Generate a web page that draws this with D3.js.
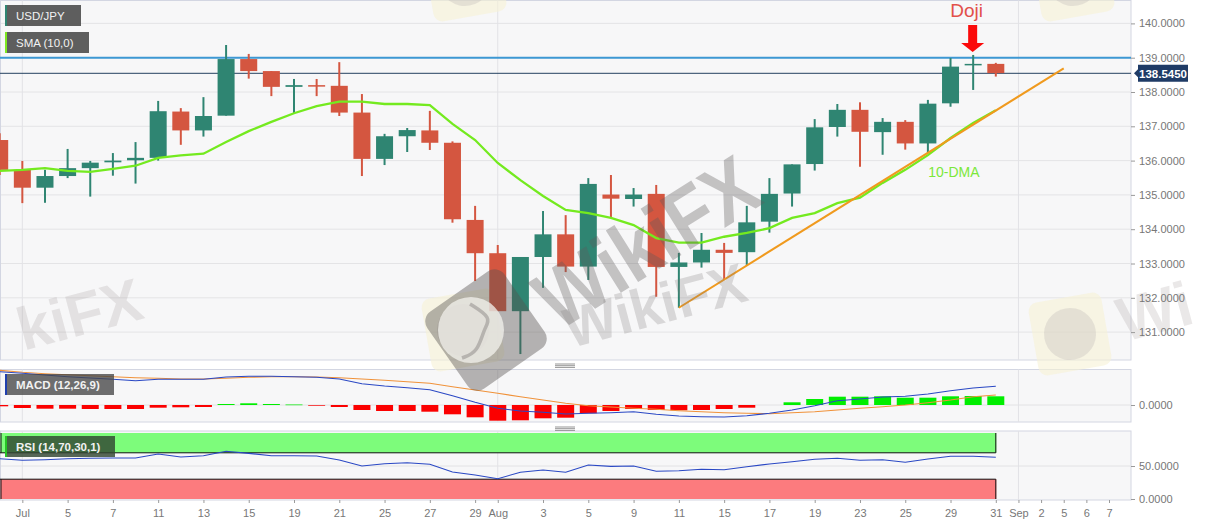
<!DOCTYPE html>
<html><head><meta charset="utf-8">
<script src="https://cdn.jsdelivr.net/npm/d3@7/dist/d3.min.js"></script>
<style>html,body{margin:0;padding:0;background:#fff}svg{display:block}text{font-family:"Liberation Sans",Arial,sans-serif}</style>
</head><body><div id="chart"></div>
<script>
const xIndex = [1,3,5,7,9,11,13,15,17,19,21,22,24,26,28,30,32,34,36,38,40,42,44,45,46,47,48,49];
const xLabels = ["Jul","5","7","11","13","15","19","21","25","27","29","Aug","3","5","9","11","15","17","19","23","25","29","31","Sep","2","5","6","7"];
const monthIndex = [1,22,45];
const priceTicks = [131,132,133,134,135,136,137,138,139,140];

const open  = [136.60,135.73,135.21,135.55,135.78,135.95,136.01,136.08,137.43,136.88,137.31,138.96,138.61,138.15,138.20,138.18,137.40,136.05,136.71,136.88,136.52,134.27,133.30,131.61,133.19,133.85,132.91,135.01,134.88,135.03,132.90,133.03,133.40,133.33,134.22,135.04,135.90,136.98,137.48,136.83,137.13,136.50,137.67,138.79,138.82];
const high  = [136.80,135.99,135.73,136.34,135.99,136.22,136.54,137.74,137.53,137.85,139.37,139.11,138.61,138.38,138.38,138.87,137.94,136.78,136.95,137.45,136.56,134.68,133.54,133.19,134.53,134.41,135.49,135.58,135.20,135.29,133.31,133.89,133.60,134.68,135.49,135.89,137.21,137.65,137.70,137.24,137.18,137.77,138.99,139.08,138.85];
const low   = [135.58,134.76,134.77,135.49,134.95,135.56,135.33,136.00,136.46,136.70,137.31,138.39,137.88,137.38,137.88,137.30,135.55,135.87,136.25,136.31,134.19,132.49,131.61,130.36,132.29,132.75,132.52,134.33,134.66,132.03,131.71,132.88,132.55,132.96,133.90,134.66,135.71,136.70,135.82,136.17,136.32,136.22,137.57,138.06,138.45];
const close = [135.73,135.21,135.55,135.78,135.94,136.00,136.08,137.44,136.88,137.30,138.96,138.61,138.15,138.20,138.18,137.40,136.05,136.71,136.89,136.52,134.29,133.30,131.61,133.19,133.85,132.91,135.32,134.89,135.01,132.90,133.03,133.40,133.31,134.20,135.03,135.89,136.97,137.48,136.84,137.13,136.50,137.66,138.74,138.82,138.55];
const sma10 = [135.70,135.73,135.78,135.70,135.67,135.76,135.85,136.08,136.15,136.20,136.54,136.86,137.13,137.38,137.59,137.72,137.72,137.65,137.65,137.62,137.07,136.60,135.93,135.43,134.97,134.56,134.47,134.33,134.12,133.74,133.61,133.61,133.78,133.89,134.03,134.33,134.47,134.76,134.92,135.35,135.73,136.16,136.66,137.10,137.47];
const macdLine = [3.33,3.17,3.0,2.83,2.7,2.57,2.43,2.57,2.57,2.57,2.8,2.87,2.87,2.83,2.77,2.6,2.13,1.9,1.73,1.53,0.93,0.27,-0.33,-0.6,-0.73,-0.9,-0.83,-0.77,-0.67,-0.93,-1.1,-1.17,-1.2,-1.07,-0.83,-0.5,-0.07,0.43,0.6,0.8,0.87,1.1,1.43,1.7,1.87];
const signalLine = [3.47,3.27,3.13,3.03,2.93,2.83,2.73,2.67,2.6,2.6,2.67,2.77,2.83,2.83,2.8,2.73,2.6,2.47,2.33,2.17,1.83,1.5,1.17,0.83,0.5,0.17,-0.07,-0.2,-0.33,-0.43,-0.57,-0.67,-0.77,-0.83,-0.87,-0.77,-0.67,-0.5,-0.33,-0.17,0,0.23,0.5,0.83,1.0];
const macdHist = [-0.13,-0.3,-0.37,-0.37,-0.4,-0.4,-0.4,-0.27,-0.23,-0.2,0.1,0.17,0.1,0.05,-0.03,-0.2,-0.5,-0.6,-0.6,-0.67,-0.93,-1.23,-1.57,-1.53,-1.33,-1.27,-0.83,-0.6,-0.4,-0.5,-0.53,-0.5,-0.4,-0.27,0,0.27,0.6,0.83,0.83,0.87,0.73,0.73,0.87,0.9,0.87];
const rsi = [61,58.6,59.5,61,61.7,62.1,62.1,68.2,63.6,65.6,72.3,69.2,65.6,65.6,65.2,59.1,50,53.5,55,52.6,40.9,36.4,30.8,40.5,43.9,40.5,51.5,49.5,50,42,42.9,45,44.4,48.9,53,56.5,60.2,61.7,58.6,59.5,55.6,60.6,64.7,64.7,63.2];
const trendIdx = [30,47];
const trendPrice = [131.71,138.69];
const resistance = 139.0;
const lastPrice = 138.545;

const W=1207,H=526,panelR=1131;
const svg=d3.select("#chart").append("svg").attr("width",W).attr("height",H);
const x=d3.scaleLinear().domain([0,49]).range([-0.3,1109]);
const yP=d3.scaleLinear().domain([140,131]).range([23.4,332.1]);
const yM=d3.scaleLinear().domain([0,-1]).range([405,415]);
const yR=d3.scaleLinear().domain([0,100]).range([499,433]);
const panels=[[0.5,360],[369.5,422],[431,500]];
const idx=d3.range(close.length);

// panels
svg.selectAll("rect.panel").data(panels).join("rect").attr("class","panel")
 .attr("x",0.5).attr("y",d=>d[0]).attr("width",panelR-0.5).attr("height",d=>d[1]-d[0])
 .attr("fill","#f7f7f8").attr("stroke","#d3d6e2").attr("stroke-width",1);

// gridlines
svg.append("g").selectAll("line").data(priceTicks).join("line")
 .attr("x1",1).attr("x2",panelR).attr("y1",d=>yP(d)).attr("y2",d=>yP(d)).attr("stroke","#e4e4e6");
svg.append("line").attr("x1",1).attr("x2",panelR).attr("y1",yM(0)).attr("y2",yM(0)).attr("stroke","#e2e2e4");
svg.append("line").attr("x1",1).attr("x2",panelR).attr("y1",yR(50)).attr("y2",yR(50)).attr("stroke","#e2e2e4");
panels.forEach(p=>{
 svg.append("g").selectAll("line").data(monthIndex).join("line")
  .attr("x1",d=>x(d)).attr("x2",d=>x(d)).attr("y1",p[0]).attr("y2",p[1]).attr("stroke","#e2e2e6");
});

// pale logos under marks
function paleLogo(cx,cy){
 const g=svg.append("g").attr("transform",`translate(${cx},${cy}) rotate(-10)`);
 g.append("rect").attr("x",-37).attr("y",-37).attr("width",74).attr("height",74).attr("rx",9).attr("fill","#f7f1d6").attr("opacity",.6);
 g.append("circle").attr("r",26).attr("fill","#b9b4b4").attr("opacity",.3);
}
paleLogo(1070,334);paleLogo(1073,-20);paleLogo(465,-20);paleLogo(463,330);

// separators
[364,427].forEach(s=>[0,1.7,3.4].forEach(o=>svg.append("line").attr("x1",555).attr("x2",575).attr("y1",s+o).attr("y2",s+o).attr("stroke","#8a8a8a").attr("stroke-width",.9)));

// clip
svg.append("clipPath").attr("id","pc").append("rect").attr("x",0).attr("y",0).attr("width",panelR).attr("height",H);

// horizontal levels
svg.append("line").attr("x1",0).attr("x2",panelR).attr("y1",yP(resistance)).attr("y2",yP(resistance)).attr("stroke","#3d98d3").attr("stroke-width",2);
svg.append("line").attr("x1",0).attr("x2",panelR).attr("y1",yP(lastPrice)).attr("y2",yP(lastPrice)).attr("stroke","#24405f").attr("stroke-width",1);

// candles
const up="#2f8572",dn="#d45640",bw=17;
const cg=svg.append("g").attr("clip-path","url(#pc)");
cg.selectAll("line.wick").data(idx).join("line").attr("class","wick")
 .attr("x1",i=>x(i)).attr("x2",i=>x(i)).attr("y1",i=>yP(high[i])).attr("y2",i=>yP(low[i]))
 .attr("stroke",i=>close[i]>=open[i]?up:dn).attr("stroke-width",2);
cg.selectAll("rect.body").data(idx).join("rect").attr("class","body")
 .attr("x",i=>x(i)-bw/2).attr("width",bw)
 .attr("y",i=>yP(Math.max(open[i],close[i])))
 .attr("height",i=>Math.max(1.5,Math.abs(yP(open[i])-yP(close[i]))))
 .attr("fill",i=>close[i]>=open[i]?up:dn);

// SMA + trend
const line=(ys,arr)=>d3.line().x((d,i)=>x(i)).y(d=>ys(d))(arr);
svg.append("path").attr("clip-path","url(#pc)").attr("d",line(yP,sma10)).attr("fill","none").attr("stroke","#74ea1f").attr("stroke-width",2.3);
svg.append("path").attr("d",d3.line().x(d=>x(d[0])).y(d=>yP(d[1]))(trendIdx.map((t,i)=>[t,trendPrice[i]]))).attr("fill","none").attr("stroke","#f09a1e").attr("stroke-width",2);

// MACD
svg.append("g").selectAll("rect").data(idx.filter(i=>macdHist[i]!==0)).join("rect").attr("clip-path","url(#pc)")
 .attr("x",i=>x(i)-bw/2).attr("width",bw)
 .attr("y",i=>Math.min(yM(0),yM(macdHist[i]))).attr("height",i=>Math.max(.7,Math.abs(yM(macdHist[i])-yM(0))))
 .attr("fill",i=>macdHist[i]>0?"#00ee00":"#fb0000");
svg.append("path").attr("d",line(yM,signalLine)).attr("fill","none").attr("stroke","#f0923a").attr("stroke-width",1.1);
svg.append("path").attr("d",line(yM,macdLine)).attr("fill","none").attr("stroke","#2a48c4").attr("stroke-width",1.1);

// RSI bands
const bandR=x(idx[idx.length-1]);
svg.append("rect").attr("x",0.5).attr("y",yR(100)).attr("width",bandR).attr("height",yR(70)-yR(100)).attr("fill","#7dfc7b");
svg.append("rect").attr("x",0.5).attr("y",yR(30)).attr("width",bandR).attr("height",yR(0)-yR(30)).attr("fill","#fc7b7e");
[[70,100],[0,30]].forEach(b=>{
 const t=b[0]===70?yR(70):yR(30);
 svg.append("path").attr("d",`M1,${yR(b[1])}V${yR(b[0])}M${bandR},${yR(b[1])}V${yR(b[0])}M0,${t}H${bandR}`).attr("stroke","#111").attr("fill","none").attr("stroke-width",1);
});
svg.append("path").attr("d",line(yR,rsi)).attr("fill","none").attr("stroke","#2a48c4").attr("stroke-width",1.1);

// dark watermark over marks
const wm=svg.append("g").attr("pointer-events","none");
const lg=wm.append("g").attr("transform","translate(486,330) rotate(-35)");
lg.append("rect").attr("x",-47).attr("y",-47).attr("width",94).attr("height",94).attr("rx",12).attr("fill","#55504e").attr("opacity",.42);
wm.append("circle").attr("cx",471).attr("cy",330).attr("r",33).attr("fill","#f1efea").attr("opacity",.78);
wm.append("path").attr("d",d3.line().curve(d3.curveBasis)([[470,304],[492,318],[484,328],[478,352],[462,358]])).attr("fill","none").attr("stroke","#9a9693").attr("stroke-width",3.5).attr("opacity",.6);
const wmText=(t,px,py,size,rot,anchor,fill)=>wm.append("text").text(t).attr("transform",`translate(${px},${py}) rotate(${rot})`)
 .attr("text-anchor",anchor).attr("font-size",size).attr("font-weight",700).attr("fill",fill);
wmText("WikiFX",558,332,84,-32,"start","rgba(95,92,92,.34)").attr("textLength",245).attr("lengthAdjust","spacingAndGlyphs");
wmText("WikiFX",750,300,56,-15,"end","rgba(125,120,120,.25)");
wmText("kiFX",146,318,60,-15,"end","rgba(150,140,140,.2)");
wmText("Wi",1124,342,62,-15,"start","rgba(150,140,140,.2)");

// annotations
svg.append("text").text("Doji").attr("x",x(43)-6.5).attr("y",17).attr("text-anchor","middle").attr("font-size",19).attr("fill","#e2504a");
const ax=x(43)-0.5;
svg.append("path").attr("d",`M${ax-4.5},25H${ax+4.5}V43H${ax+11.5}L${ax},52L${ax-11.5},43H${ax-4.5}Z`).attr("fill","#fb0a0a");
svg.append("text").text("10-DMA").attr("x",x(40)+23).attr("y",177).attr("font-size",14).attr("fill","#7be83a");

// axes
const fmt=d3.format(".4f");
const axisStyle=g=>{g.select(".domain").remove();g.selectAll("line").attr("stroke","#9a9a9a");g.selectAll("text").attr("fill","#777").attr("font-size",11);};
svg.append("g").attr("transform",`translate(${panelR},0)`).call(d3.axisRight(yP).tickValues(priceTicks).tickFormat(fmt).tickSize(4).tickPadding(4)).call(axisStyle);
svg.append("g").attr("transform",`translate(${panelR},0)`).call(d3.axisRight(yM).tickValues([0]).tickFormat(fmt).tickSize(4).tickPadding(4)).call(axisStyle);
svg.append("g").attr("transform",`translate(${panelR},0)`).call(d3.axisRight(yR).tickValues([0,50]).tickFormat(fmt).tickSize(4).tickPadding(4)).call(axisStyle);
const xa=svg.append("g").attr("transform","translate(0,500)").call(d3.axisBottom(x).tickValues(xIndex).tickFormat((d,i)=>xLabels[i]).tickSize(3).tickPadding(6));
xa.select(".domain").remove();xa.selectAll("line").attr("stroke","#9a9a9a");xa.selectAll("text").attr("fill","#777").attr("font-size",11);

// price tag
const py=yP(lastPrice);
svg.append("path").attr("d",`M1134,${py}L1138,${py-4}V${py-8.5}H1188V${py+8.5}H1138V${py+4}Z`).attr("fill","#1f3b66");
svg.append("text").text(fmt(lastPrice)).attr("x",1163).attr("y",py+4.5).attr("text-anchor","middle").attr("font-size",11.5).attr("font-weight",700).attr("fill","#fff");

// legend boxes
const legends=[["USD/JPY",5,5,76,"#2f8572","rgba(85,85,85,.95)"],["SMA (10,0)",5,32,84,"#7ee821","rgba(85,85,85,.95)"],["MACD (12,26,9)",5,374,109,"#1f3fae","rgba(70,70,70,.78)"],["RSI (14,70,30,1)",5,436,110,"#25c425","rgba(50,70,50,.82)"]];
const lgG=svg.append("g");
lgG.selectAll("rect.b").data(legends).join("rect").attr("class","b").attr("x",d=>d[1]).attr("y",d=>d[2]).attr("width",d=>d[3]).attr("height",21).attr("fill",d=>d[5]);
lgG.selectAll("rect.s").data(legends).join("rect").attr("class","s").attr("x",d=>d[1]).attr("y",d=>d[2]).attr("width",2).attr("height",21).attr("fill",d=>d[4]);
lgG.selectAll("text").data(legends).join("text").text(d=>d[0]).attr("x",d=>d[1]+11).attr("y",d=>d[2]+15).attr("font-size",11.5).attr("fill","#f2f2f2").attr("font-weight",d=>d[2]>300?700:400);
</script></body></html>
